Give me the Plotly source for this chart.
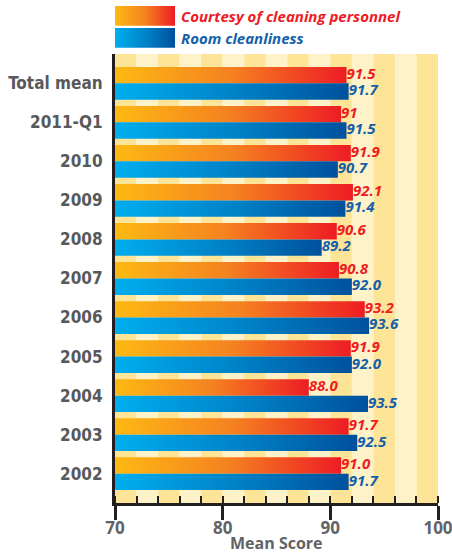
import plotly.graph_objects as go

categories = ["Total mean", "2011-Q1", "2010", "2009", "2008", "2007",
              "2006", "2005", "2004", "2003", "2002"]
series_names = ["Courtesy of cleaning personnel", "Room cleanliness"]
courtesy = [91.5, 91.0, 91.9, 92.1, 90.6, 90.8, 93.2, 91.9, 88.0, 91.7, 91.0]
courtesy_labels = ["91.5", "91", "91.9", "92.1", "90.6", "90.8", "93.2", "91.9", "88.0", "91.7", "91.0"]
cleanliness = [91.7, 91.5, 90.7, 91.4, 89.2, 92.0, 93.6, 92.0, 93.5, 92.5, 91.7]
cleanliness_labels = ["91.7", "91.5", "90.7", "91.4", "89.2", "92.0", "93.6", "92.0", "93.5", "92.5", "91.7"]
x_ticks = [70, 80, 90, 100]
x_min, x_max = 70, 100
x_title = "Mean Score"

ORANGE_SCALE = [[0, "#FDB913"], [0.5, "#F58220"], [1, "#ED1C24"]]
BLUE_SCALE = [[0, "#00AEEF"], [0.5, "#0083C8"], [1, "#00519C"]]
RED_TXT = "#ED1C24"
BLUE_TXT = "#1560AA"
GRAY_TXT = "#626366"
H = 0.42

FIG_W, FIG_H = 452, 552
M_L, M_R, M_B = 115, 14, 49
PLOT_H = FIG_H - M_B          # 503
PLOT_W = FIG_W - M_L - M_R    # 323
MAIN_TOP_PX = 54
LEG_TOP_PX, LEG_BOT_PX = 6, 48

fig = go.Figure()


def bar_poly(value, y0, y1):
    xs = [x_min, value, value, x_min, x_min]
    ys = [y0, y0, y1, y1, y0]
    return xs, ys


series = [
    (courtesy, courtesy_labels, ORANGE_SCALE, RED_TXT, -1),
    (cleanliness, cleanliness_labels, BLUE_SCALE, BLUE_TXT, 1),
]
for vals, labels, scale, tcol, side in series:
    for i, v in enumerate(vals):
        xs, ys = bar_poly(v, i, i + side * H)
        fig.add_trace(go.Scatter(
            x=xs, y=ys, mode="lines", fill="toself",
            line=dict(width=0, color="rgba(0,0,0,0)"),
            fillgradient=dict(type="horizontal", colorscale=scale),
            showlegend=False, hoverinfo="skip"))
    fig.add_trace(go.Scatter(
        x=vals, y=[i + side * H / 2 for i in range(len(vals))],
        mode="text", text=labels, textposition="middle right",
        textfont=dict(family="Open Sans", size=15, color=tcol,
                      weight="bold", style="italic"),
        showlegend=False, hoverinfo="skip"))

# legend swatches on their own small axes
for k, (name, scale, tcol) in enumerate([(series_names[0], ORANGE_SCALE, RED_TXT),
                                          (series_names[1], BLUE_SCALE, BLUE_TXT)]):
    top = 2 - k * 1.05
    bot = top - 0.94
    fig.add_trace(go.Scatter(
        x=[0, 1, 1, 0, 0], y=[bot, bot, top, top, bot], mode="lines", fill="toself",
        line=dict(width=0, color="rgba(0,0,0,0)"),
        fillgradient=dict(type="horizontal", colorscale=scale),
        xaxis="x2", yaxis="y2", showlegend=False, hoverinfo="skip"))
    fig.add_annotation(
        x=1, y=(top + bot) / 2, xref="x2", yref="y2",
        xanchor="left", xshift=4, showarrow=False, text=name,
        font=dict(family="Open Sans", size=15, color=tcol, weight="bold", style="italic"))

# background stripes
for j, s in enumerate(range(x_min, x_max, 2)):
    fig.add_shape(type="rect", xref="x", yref="y domain", x0=s, x1=s + 2, y0=0, y1=1,
                  fillcolor="#FDE496" if j % 2 == 0 else "#FEF2C8",
                  line=dict(width=0), layer="below")

fig.add_annotation(x=0.5, y=-40 / PLOT_H, xref="paper", yref="paper",
                   xanchor="center", yanchor="middle", showarrow=False, text=x_title,
                   font=dict(family="Open Sans", size=16, color=GRAY_TXT, weight="bold"))

fig.update_layout(
    width=FIG_W, height=FIG_H,
    margin=dict(l=M_L, r=M_R, t=0, b=M_B),
    paper_bgcolor="white", plot_bgcolor="white",
    showlegend=False,
    xaxis=dict(range=[x_min, x_max], tickvals=x_ticks, ticks="outside", ticklen=14,
               tickwidth=2.5, tickcolor="#231F20", showline=True, linecolor="#231F20",
               linewidth=3, showgrid=False, zeroline=False, automargin=False,
               ticklabelstandoff=-6, ticklabeloverflow="allow",
               minor=dict(dtick=2, ticks="inside", ticklen=7, tickwidth=1.5,
                          tickcolor="#231F20", showgrid=False),
               tickfont=dict(family="Open Sans", size=17, color=GRAY_TXT, weight="bold")),
    yaxis=dict(range=[10.75, -0.75], domain=[0, (PLOT_H - MAIN_TOP_PX) / PLOT_H],
               tickvals=list(range(len(categories))),
               ticktext=categories, ticks="", showline=True, linecolor="#231F20", linewidth=3,
               showgrid=False, zeroline=False, ticklabelstandoff=6, automargin=False,
               tickfont=dict(family="DejaVu Sans Condensed", size=17, color="#58595B",
                             weight="bold")),
    xaxis2=dict(domain=[0, 60 / PLOT_W], range=[0, 1], visible=False, fixedrange=True,
                anchor="y2"),
    yaxis2=dict(domain=[(PLOT_H - LEG_BOT_PX) / PLOT_H, (PLOT_H - LEG_TOP_PX) / PLOT_H],
                range=[0, 2], visible=False, fixedrange=True, anchor="x2"),
)

# remove the browser's default 8px page margin so the figure fills the window exactly
fig.write_html("out.html",
               config={"displayModeBar": False},
               post_script="document.body.style.margin='0';"
                           "document.body.style.overflow='hidden';")
